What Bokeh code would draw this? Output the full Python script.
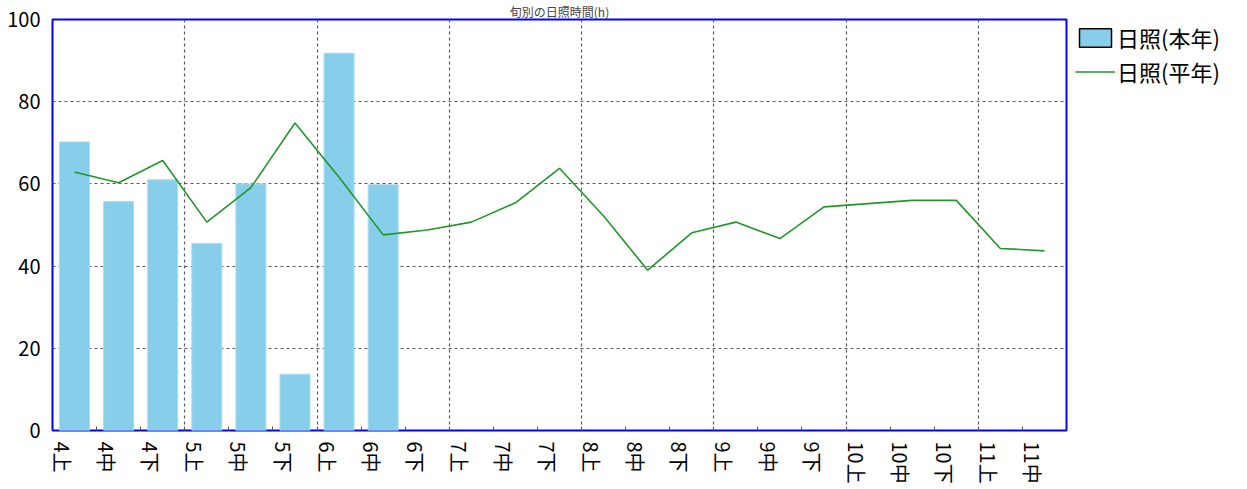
import math
from bokeh.plotting import figure
from bokeh.layouts import row
from bokeh.models import (ColumnDataSource, FixedTicker, Range1d, Legend, LegendItem,
                          CustomJSTickFormatter)
from bokeh.embed import file_html
from bokeh.resources import INLINE

# ---- data ----
title_text = "旬別の日照時間(h)"
categories = ["4上", "4中", "4下", "5上", "5中", "5下", "6上", "6中", "6下",
              "7上", "7中", "7下", "8上", "8中", "8下", "9上", "9中", "9下",
              "10上", "10中", "10下", "11上", "11中"]
this_year = [70.2, 55.7, 61.0, 45.5, 60.0, 13.7, 91.8, 59.8]
normal_year = [62.9, 60.3, 65.7, 50.7, 59.1, 74.8, 61.6, 47.6, 48.8,
               50.7, 55.4, 63.8, 52.2, 39.0, 48.1, 50.7, 46.7, 54.4,
               55.2, 56.0, 56.0, 44.3, 43.7]
y_ticks = [0, 20, 40, 60, 80, 100]
legend_labels = ["日照(本年)", "日照(平年)"]

FONT = "Noto Sans CJK JP"
BAR_COLOR = "#87CEEB"
LINE_COLOR = "#22962A"
n = len(categories)
xs = [i + 0.5 for i in range(n)]

bar_src = ColumnDataSource(dict(x=xs[:len(this_year)], top=this_year))
line_src = ColumnDataSource(dict(x=xs, y=normal_year))

p = figure(width=1070, height=488, output_backend="svg", toolbar_location=None,
           x_range=Range1d(0, n), y_range=Range1d(0, 100),
           min_border_left=52, min_border_right=4, min_border_top=18,
           min_border_bottom=58, title=title_text)
p.background_fill_color = "white"
p.border_fill_color = "white"
p.outline_line_color = "#0000FF"
p.outline_line_width = 2

p.title.text_font = FONT
p.title.text_font_size = "12px"
p.title.text_font_style = "normal"
p.title.align = "center"
p.title.offset = 89
p.title.standoff = 0
p.title.text_line_height = 1.0

bars = p.vbar(x="x", top="top", width=0.68, source=bar_src,
              fill_color=BAR_COLOR, line_color="#A8DCF0", line_width=1)
line = p.line(x="x", y="y", source=line_src, line_color=LINE_COLOR, line_width=1.6)

# x axis: labels slightly left of centre, ticks at category boundaries
label_pos = [i + 0.23 for i in range(n)]
p.xaxis.ticker = FixedTicker(ticks=label_pos, minor_ticks=list(range(1, n)))
p.xaxis.formatter = CustomJSTickFormatter(args=dict(labels=categories),
                                          code="return labels[Math.round(tick - 0.23)];")
p.xaxis.major_label_orientation = -math.pi / 2
p.xaxis.major_label_text_font = FONT
p.xaxis.major_label_text_font_size = "20px"
p.xaxis.major_label_text_color = "black"
p.xaxis.major_label_standoff = 11
p.xaxis.major_tick_in = 0
p.xaxis.major_tick_out = 0
p.xaxis.minor_tick_in = 4
p.xaxis.minor_tick_out = 0
p.xaxis.minor_tick_line_color = "#555555"
p.xaxis.axis_line_color = None

p.yaxis.ticker = FixedTicker(ticks=y_ticks)
p.yaxis.major_label_text_font = FONT
p.yaxis.major_label_text_font_size = "20px"
p.yaxis.major_label_text_color = "black"
p.yaxis.major_label_standoff = 12
p.yaxis.major_tick_in = 0
p.yaxis.major_tick_out = 0
p.yaxis.minor_tick_line_color = None
p.yaxis.axis_line_color = None

p.xgrid.ticker = FixedTicker(ticks=list(range(3, n, 3)))
p.xgrid.grid_line_color = "#5A5A5A"
p.xgrid.grid_line_dash = "3 3"
p.xgrid.grid_line_width = 1.2
p.ygrid.ticker = FixedTicker(ticks=y_ticks[1:-1])
p.ygrid.grid_line_color = "#5A5A5A"
p.ygrid.grid_line_dash = "3 3"
p.ygrid.grid_line_width = 1.2

# ---- legend panel (separate narrow figure to the right of the frame) ----
p2 = figure(width=170, height=488, output_backend="svg", toolbar_location=None,
            x_range=Range1d(0, 1), y_range=Range1d(0, 1),
            x_axis_type=None, y_axis_type=None, min_border=0)
p2.outline_line_color = None
p2.background_fill_color = "white"
p2.border_fill_color = "white"
p2.xgrid.visible = False
p2.ygrid.visible = False
leg_bar = p2.vbar(x=[-5], top=[0], width=0.5, fill_color=BAR_COLOR,
                  line_color="black", line_width=1.5)
leg_line = p2.line(x=[-5, -4], y=[0, 0], line_color=LINE_COLOR, line_width=1.6)

legend = Legend(items=[LegendItem(label=legend_labels[0], renderers=[leg_bar]),
                       LegendItem(label=legend_labels[1], renderers=[leg_line])],
                location=(5, 343))
legend.border_line_color = None
legend.background_fill_alpha = 0
legend.margin = 0
legend.padding = 0
legend.spacing = 2
legend.glyph_width = 40
legend.glyph_height = 23
legend.label_height = 23
legend.label_standoff = 2
legend.label_text_font = FONT
legend.label_text_font_size = "22px"
legend.label_text_color = "black"
p2.add_layout(legend, "center")

layout = row(p, p2)
open("out.html", "w").write(file_html(layout, INLINE))
